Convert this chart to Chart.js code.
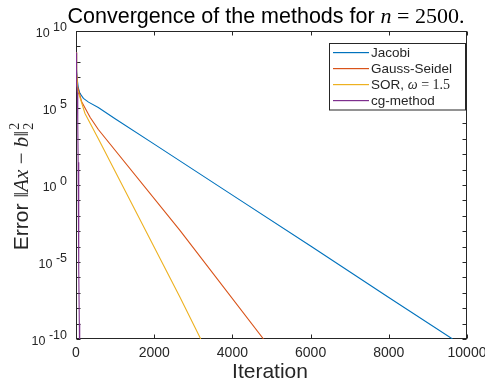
<!DOCTYPE html>
<html><head><meta charset="utf-8">
<script src="https://cdn.jsdelivr.net/npm/chart.js@4"></script>
<style>html,body{margin:0;padding:0;background:#fff;}#wrap{width:485px;height:383px;}</style>
</head><body><div id="wrap"><canvas id="c" width="485" height="383"></canvas></div>
<script>
// ---- data ----
const seriesNames = ['Jacobi', 'Gauss-Seidel', 'SOR, ', 'cg-method'];
const jacobiIter = [0, 15, 35, 60, 100, 190, 320, 570, 1000, 2000, 4000, 6000, 8000, 9630];
const jacobiErr  = [4e8, 3.2e7, 6.3e6, 2e6, 8.9e5, 4.2e5, 2.4e5, 1.07e5, 2e4, 4.5e2, 2.2e-1, 1.1e-4, 5e-8, 1e-10];
const gsIter = [0, 15, 40, 145, 360, 571, 2663, 4795];
const gsErr  = [4e8, 2e7, 2.5e6, 2.5e5, 2.5e4, 4e3, 1.1e-3, 1e-10];
const sorIter = [0, 15, 43, 230, 571, 2663, 3190];
const sorErr  = [4e8, 1.6e7, 1.45e6, 4.4e4, 1e3, 5e-8, 1e-10];
const cgIter = [0, 3, 6, 10, 15, 20, 25, 35, 45, 55, 65, 75, 85, 95];
const cgErr  = [4e8, 4e7, 1e7, 4e6, 8e6, 2.5e6, 5e6, 1e6, 1e4, 30, 1e-2, 3e-6, 1e-9, 1e-12];
const xTicks = [0, 2000, 4000, 6000, 8000, 10000];
const yTickExps = [-10, -9, -8, -7, -6, -5, -4, -3, -2, -1, 0, 1, 2, 3, 4, 5, 6, 7, 8, 9, 10];
const yLabelExps = [-10, -5, 0, 5, 10];
const seriesColors = ['#0072BD', '#D95319', '#EDB120', '#7E2F8E'];

function pts(xs, ys) { return xs.map((x, i) => ({x: x, y: ys[i]})); }

const AX = '#262626';
const SANS = '"Liberation Sans", Arial, Helvetica, sans-serif';
const SERIF = '"Liberation Serif", "Times New Roman", serif';

const decor = {
  id: 'decor',
  beforeDatasetsDraw(chart) {
    const ctx = chart.ctx;
    const a = chart.chartArea;
    const xs = chart.scales.x, ys = chart.scales.y;
    ctx.save();
    ctx.strokeStyle = AX; ctx.lineWidth = 1;
    const L = Math.round(a.left) + 0.5, R = Math.round(a.right) - 0.5;
    const T = Math.round(a.top) + 0.5, B = Math.round(a.bottom) - 0.5;
    ctx.strokeRect(L, T, R - L, B - T);
    ctx.beginPath();
    xTicks.forEach(v => {
      const px = Math.round(xs.getPixelForValue(v)) + 0.5;
      ctx.moveTo(px, B); ctx.lineTo(px, B - 4);
      ctx.moveTo(px, T); ctx.lineTo(px, T + 4);
    });
    yTickExps.forEach(e => {
      const py = Math.round(ys.getPixelForValue(Math.pow(10, e))) + 0.5;
      ctx.moveTo(L, py); ctx.lineTo(L + 4, py);
      ctx.moveTo(R, py); ctx.lineTo(R - 4, py);
    });
    ctx.stroke();
    ctx.restore();
  },
  afterDraw(chart) {
    const ctx = chart.ctx;
    const a = chart.chartArea;
    const xs = chart.scales.x, ys = chart.scales.y;
    ctx.save();
    // x tick labels
    ctx.fillStyle = AX;
    ctx.font = '14px ' + SANS;
    ctx.textAlign = 'center'; ctx.textBaseline = 'alphabetic';
    xTicks.forEach(v => {
      ctx.fillText(String(v), xs.getPixelForValue(v), 357);
    });
    // y tick labels 10^e
    ctx.textAlign = 'left';
    yLabelExps.forEach(e => {
      const py = ys.getPixelForValue(Math.pow(10, e));
      ctx.font = '12.5px ' + SANS;
      const base = '10', ex = String(e);
      const wb = ctx.measureText(base + ' ').width;
      const we = ctx.measureText(ex).width;
      const right = 67;
      const x0 = right - we - wb;
      ctx.fillText(base, x0, py + 5.5);
      ctx.fillText(ex, x0 + wb, py - 0.5);
    });
    // x axis title
    ctx.font = '21px ' + SANS;
    ctx.textAlign = 'center';
    ctx.fillText('Iteration', 270, 378);

    // title with mixed fonts
    const tparts = [
      ['Convergence of the methods for ', '21.5px ' + SANS],
      ['n', 'italic 22px ' + SERIF],
      [' = 2500.', '22px ' + SERIF]
    ];
    drawParts(ctx, tparts, 266, 22.5);

    // y axis title rotated
    ctx.save();
    ctx.translate(28, 187);
    ctx.rotate(-Math.PI / 2);
    const yparts = [
      ['Error ', '21px ' + SANS],
      ['\u2016', '21px ' + SERIF],
      ['Ax', 'italic 21px ' + SERIF],
      [' \u2212 ', '21px ' + SERIF],
      ['b', 'italic 21px ' + SERIF],
      ['\u2016', '21px ' + SERIF]
    ];
    ctx.font = '14px ' + SERIF;
    const supW = ctx.measureText('2').width;
    let tw = 0;
    yparts.forEach(p => { ctx.font = p[1]; tw += ctx.measureText(p[0]).width; });
    let x = -(tw + supW) / 2;
    ctx.textAlign = 'left';
    ctx.fillStyle = AX;
    yparts.forEach(p => { ctx.font = p[1]; ctx.fillText(p[0], x, 0); x += ctx.measureText(p[0]).width; });
    ctx.font = '14px ' + SERIF;
    ctx.fillText('2', x + 1, -9);
    ctx.fillText('2', x + 1, 5);
    ctx.restore();

    // legend
    const lx = 329.5, ly = 43.5, lw = 136, lh = 66.5;
    ctx.fillStyle = '#fff';
    ctx.fillRect(lx, ly, lw, lh);
    ctx.strokeStyle = AX; ctx.lineWidth = 1;
    ctx.strokeRect(lx, ly, lw, lh);
    const rows = [52, 68, 84, 100];
    ctx.textBaseline = 'middle';
    seriesNames.forEach((name, i) => {
      const y = rows[i];
      ctx.fillStyle = seriesColors[i];
      ctx.fillRect(333, y, 36, 1.2);
      ctx.fillStyle = AX; ctx.textAlign = 'left';
      ctx.font = '13.5px ' + SANS;
      ctx.fillText(name, 371, y + 1);
      if (i === 2) {
        let xx = 371 + ctx.measureText(name).width;
        ctx.font = 'italic 14px ' + SERIF;
        ctx.fillText('\u03C9', xx, y + 1);
        xx += ctx.measureText('\u03C9').width;
        ctx.font = '14px ' + SERIF;
        ctx.fillText(' = 1.5', xx, y + 1);
      }
    });
    ctx.restore();
  }
};

function drawParts(ctx, parts, cx, baseY) {
  let w = 0;
  parts.forEach(p => { ctx.font = p[1]; w += ctx.measureText(p[0]).width; });
  let x = cx - w / 2;
  ctx.textAlign = 'left'; ctx.textBaseline = 'alphabetic'; ctx.fillStyle = '#000';
  parts.forEach(p => { ctx.font = p[1]; ctx.fillText(p[0], x, baseY); x += ctx.measureText(p[0]).width; });
}

const ds = (label, xs, ys, c, order) => ({
  label: label, data: pts(xs, ys), borderColor: c, backgroundColor: c,
  borderWidth: 1.1, pointRadius: 0, fill: false, tension: 0, order: order
});

new Chart(document.getElementById('c'), {
  type: 'line',
  data: {
    datasets: [
      ds(seriesNames[0], jacobiIter, jacobiErr, seriesColors[0], 3),
      ds(seriesNames[1], gsIter, gsErr, seriesColors[1], 2),
      ds(seriesNames[2] + 'ω = 1.5', sorIter, sorErr, seriesColors[2], 1),
      ds(seriesNames[3], cgIter, cgErr, seriesColors[3], 0)
    ]
  },
  options: {
    responsive: false, animation: false, devicePixelRatio: 1,
    layout: {padding: {left: 76, right: 18, top: 31, bottom: 44}},
    plugins: {legend: {display: false}, title: {display: false}, tooltip: {enabled: false}, colors: {enabled: false}},
    scales: {
      x: {type: 'linear', min: 0, max: 10000, display: false},
      y: {type: 'logarithmic', min: 1e-10, max: 1e10, display: false}
    }
  },
  plugins: [decor]
});
</script>
</body></html>
